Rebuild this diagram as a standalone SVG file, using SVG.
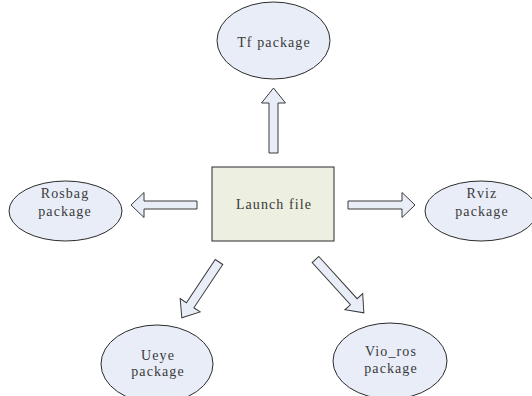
<svg xmlns="http://www.w3.org/2000/svg" width="532" height="396" viewBox="0 0 532 396">
  <style>
    .pkg { fill: #e8edf7; stroke: #2b2b2b; stroke-width: 1; }
    .main { fill: #edefe0; stroke: #2b2b2b; stroke-width: 1; }
    .arrow { fill: #e8edf7; stroke: #3a3a3a; stroke-width: 1; stroke-linejoin: miter; }
    text { font-family: "Liberation Serif", "DejaVu Serif", serif; font-size: 14px; letter-spacing: 1.1px; fill: #3a3a3a; text-anchor: middle; }
  </style>
  <rect width="532" height="396" fill="#ffffff"/>

  <!-- block arrows from the launch file out to each package -->
  <g id="connectors">
    <polygon class="arrow" transform="translate(273.5,153) rotate(-90)" points="0,-4.5 50,-4.5 50,-12 65,0 50,12 50,4.5 0,4.5"/>
    <polygon class="arrow" transform="translate(197,205) rotate(180)" points="0,-4 53,-4 53,-12.5 66,0 53,12.5 53,4 0,4"/>
    <polygon class="arrow" transform="translate(348,205)" points="0,-4 54,-4 54,-12.5 67,0 54,12.5 54,4 0,4"/>
    <polygon class="arrow" transform="translate(219,262) rotate(123.7)" points="0,-4.5 52,-4.5 52,-12 67,0 52,12 52,4.5 0,4.5"/>
    <polygon class="arrow" transform="translate(315.5,259.5) rotate(47.8)" points="0,-4.5 57,-4.5 57,-12 72,0 57,12 57,4.5 0,4.5"/>
  </g>

  <g id="launch-file">
    <rect class="main" x="212" y="167" width="122" height="74"/>
    <text x="274" y="209">Launch file</text>
  </g>

  <g id="tf-package">
    <ellipse class="pkg" cx="273.5" cy="40.5" rx="56.5" ry="38.5"/>
    <text x="274" y="47">Tf package</text>
  </g>

  <g id="rosbag-package">
    <ellipse class="pkg" cx="65.5" cy="211" rx="56.5" ry="30"/>
    <text x="65" y="198">Rosbag</text>
    <text x="65" y="216">package</text>
  </g>

  <g id="rviz-package">
    <ellipse class="pkg" cx="481" cy="211" rx="56" ry="30"/>
    <text x="482" y="198">Rviz</text>
    <text x="482" y="216">package</text>
  </g>

  <g id="ueye-package">
    <ellipse class="pkg" cx="157" cy="364" rx="56" ry="39"/>
    <text x="158" y="360">Ueye</text>
    <text x="158" y="376">package</text>
  </g>

  <g id="vio-ros-package">
    <ellipse class="pkg" cx="390" cy="361" rx="57" ry="38"/>
    <text x="391" y="356">Vio_ros</text>
    <text x="391" y="373">package</text>
  </g>
</svg>
